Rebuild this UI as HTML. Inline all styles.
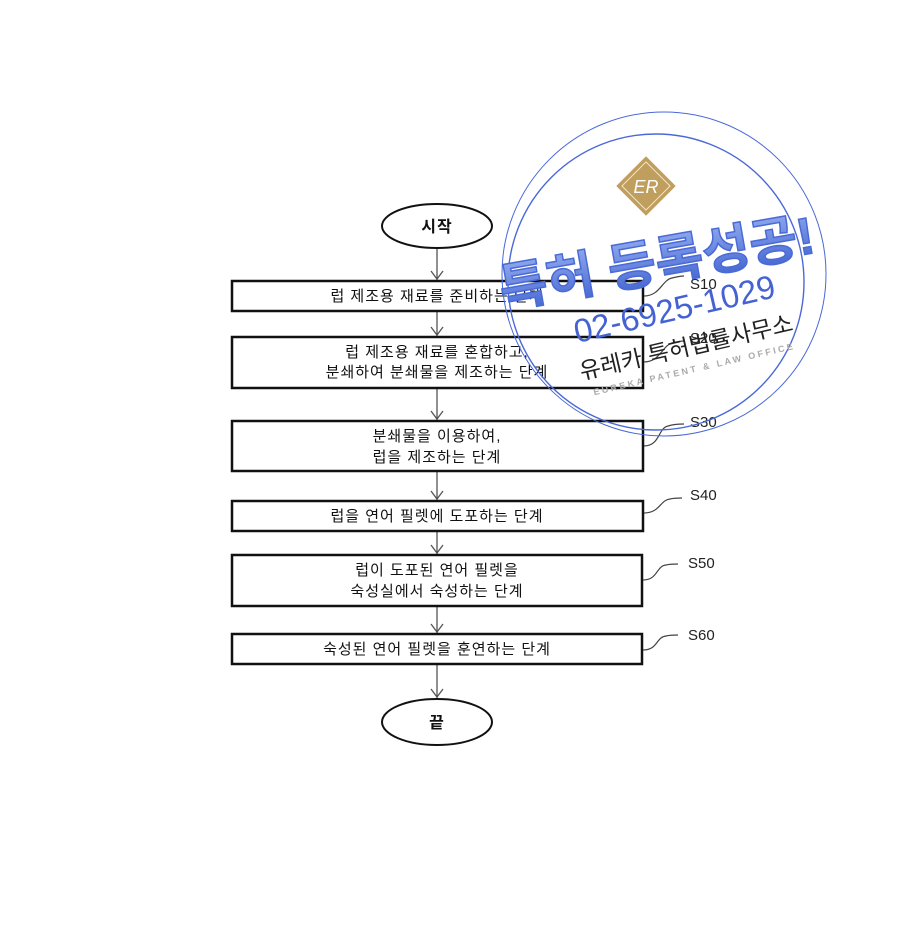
<!DOCTYPE html>
<html><head><meta charset="utf-8"><style>
html,body{margin:0;padding:0;background:#fff;}
svg{display:block;}
text{font-family:"Liberation Sans","Noto Sans CJK KR",sans-serif;}
</style></head><body>
<svg width="900" height="949" viewBox="0 0 900 949" xmlns="http://www.w3.org/2000/svg">
<defs>
<linearGradient id="bg" x1="0" y1="0" x2="0" y2="1">
<stop offset="0" stop-color="#8fa8ee"/><stop offset="1" stop-color="#3f62d0"/>
</linearGradient>
</defs>
<g stroke="#555" stroke-width="1.3" fill="none">
<line x1="437" y1="248" x2="437" y2="280"/><path d="M431,271 L437,279 L443,271"/>
<line x1="437" y1="312" x2="437" y2="336"/><path d="M431,327 L437,335 L443,327"/>
<line x1="437" y1="389" x2="437" y2="420"/><path d="M431,411 L437,419 L443,411"/>
<line x1="437" y1="472" x2="437" y2="500"/><path d="M431,491 L437,499 L443,491"/>
<line x1="437" y1="532" x2="437" y2="554"/><path d="M431,545 L437,553 L443,545"/>
<line x1="437" y1="607" x2="437" y2="633"/><path d="M431,624 L437,632 L443,624"/>
<line x1="437" y1="665" x2="437" y2="698"/><path d="M431,689 L437,697 L443,689"/>
</g>
<g stroke="#111" stroke-width="2.5" fill="#fff">
<ellipse cx="437" cy="226" rx="55" ry="22" stroke-width="2"/>
<rect x="232" y="281" width="411" height="30"/>
<rect x="232" y="337" width="411" height="51"/>
<rect x="232" y="421" width="411" height="50"/>
<rect x="232" y="501" width="411" height="30"/>
<rect x="232" y="555" width="410" height="51"/>
<rect x="232" y="634" width="410" height="30"/>
<ellipse cx="437" cy="722" rx="55" ry="23" stroke-width="2"/>
</g>
<g stroke="#444" stroke-width="1.2" fill="none">
<path d="M644,296 C660,296 662,280 672,278 C676,277 680,276 684,276"/>
<path d="M644,362 C660,362 662,346 672,343 C676,342 680,341 684,341"/>
<path d="M644,446 C660,446 658,428 668,426 C674,424 680,424 684,424"/>
<path d="M644,513 C660,513 660,500 670,499 C674,498 678,498 682,498"/>
<path d="M643,580 C658,580 656,566 666,565 C670,564 674,564 678,564"/>
<path d="M643,650 C658,650 656,637 666,636 C670,635 674,635 678,635"/>
</g>
<g fill="#111" font-size="15" text-anchor="middle" letter-spacing="1">
<text x="437" y="232" font-weight="bold" font-size="16">시작</text>
<text x="437" y="301">럽 제조용 재료를 준비하는 단계</text>
<text x="437" y="357">럽 제조용 재료를 혼합하고,</text>
<text x="437" y="377">분쇄하여 분쇄물을 제조하는 단계</text>
<text x="437" y="441">분쇄물을 이용하여,</text>
<text x="437" y="462">럽을 제조하는 단계</text>
<text x="437" y="521">럽을 연어 필렛에 도포하는 단계</text>
<text x="437" y="575">럽이 도포된 연어 필렛을</text>
<text x="437" y="596">숙성실에서 숙성하는 단계</text>
<text x="437" y="654">숙성된 연어 필렛을 훈연하는 단계</text>
<text x="437" y="728" font-weight="bold" font-size="16">끝</text>
</g>
<g fill="#222" font-size="15">
<text x="690" y="289">S10</text>
<text x="690" y="343">S20</text>
<text x="690" y="427">S30</text>
<text x="690" y="500">S40</text>
<text x="688" y="568">S50</text>
<text x="688" y="640">S60</text>
</g>
<!-- watermark -->
<g fill="none" stroke="#4a68d8">
<circle cx="664" cy="274" r="162" stroke-width="1"/>
<circle cx="656" cy="282" r="148" stroke-width="1.4"/>
</g>
<g transform="translate(646,186) rotate(45)">
<rect x="-21" y="-21" width="42" height="42" fill="#bf9e5e"/>
<rect x="-17" y="-17" width="34" height="34" fill="none" stroke="#f3e6c8" stroke-width="1"/>
</g>
<text x="646" y="193" font-family="Liberation Serif,serif" font-size="18" fill="#fff" text-anchor="middle" font-style="italic">ER</text>
<g transform="translate(660,280) rotate(-10)">
<text x="0" y="0" text-anchor="middle" font-size="52" font-weight="bold" fill="url(#bg)" stroke="#4a6ad6" stroke-width="1.5">특허 등록성공!</text>
</g>
<g transform="translate(677,320) rotate(-13)">
<text x="0" y="0" text-anchor="middle" font-size="33" fill="#4562d3">02-6925-1029</text>
</g>
<g transform="translate(688,355) rotate(-13)">
<text x="0" y="0" text-anchor="middle" font-size="23" fill="#222">유레카 특허법률사무소</text>
</g>
<g transform="translate(695,372) rotate(-13)">
<text x="0" y="0" text-anchor="middle" font-size="9" letter-spacing="2.5" fill="#aaa" font-weight="bold">EUREKA PATENT &amp; LAW OFFICE</text>
</g>
</svg>
</body></html>
